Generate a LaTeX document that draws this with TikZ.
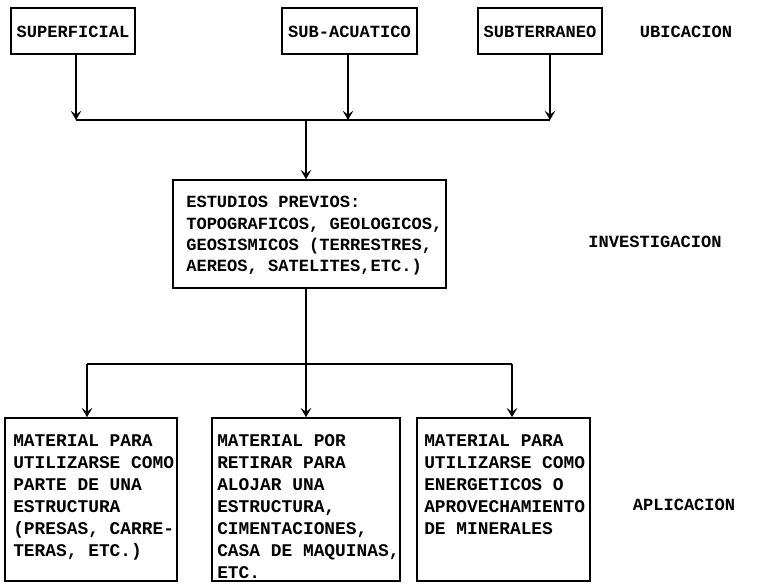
\documentclass[tikz,border=0pt]{standalone}
\usepackage{fontspec}
\setmonofont{Liberation Mono}
\usetikzlibrary{arrows.meta,fit}
\begin{document}
\begin{tikzpicture}[x=0.75pt,y=-0.75pt,
  box/.style={draw,line width=1.2pt,inner sep=0pt},
  txt/.style={font=\ttfamily\bfseries\fontsize{12.8}{16}\selectfont,align=left,inner sep=0pt},
  btxt/.style={txt,font=\ttfamily\bfseries\fontsize{13.4}{16.5}\selectfont,anchor=north west},
  link/.style={line width=1.5pt},
  arr/.style={link,-{Stealth[length=7pt,width=8pt,inset=3pt]}}]
\useasboundingbox[fill=white] (0,0) rectangle (777,584);

% location level
\node[box,fit={(11,8)(135,54)}] (sup) {};
\node[box,fit={(282,8)(417,54)}] (sub) {};
\node[box,fit={(478,8)(602,54)}] (ter) {};
\node[txt] (suptxt) at ([yshift=-1pt]sup.center) {SUPERFICIAL};
\node[txt] (subtxt) at ([yshift=-1pt]sub.center) {SUB-ACUATICO};
\node[txt] (tertxt) at ([yshift=-1pt]ter.center) {SUBTERRANEO};
\node[txt] (ubi) at (686,32) {UBICACION};

% collecting bus
\coordinate (t1) at (76,120);
\coordinate (t2) at (348,120);
\coordinate (t3) at (550,120);
\coordinate (tm) at (306,120);
\draw[arr] (sup.south -| t1) -- (t1);
\draw[arr] (sub.south -| t2) -- (t2);
\draw[arr] (ter.south -| t3) -- (t3);
\draw[link] (t1) -- (t3);

% investigation level
\node[box,fit={(173,180)(446,288)}] (mid) {};
\node[txt,anchor=west] (midtxt) at (186,236)
  {ESTUDIOS PREVIOS:\\TOPOGRAFICOS, GEOLOGICOS,\\GEOSISMICOS (TERRESTRES,\\AEREOS, SATELITES,ETC.)};
\node[txt] (inv) at (655,242) {INVESTIGACION};
\draw[arr] (tm) -- (mid.north -| tm);

% distribution bus
\coordinate (b1) at (87,364);
\coordinate (b2) at (306,364);
\coordinate (b3) at (512,364);
\draw[link] (mid.south -| b2) -- (b2);
\draw[link] (b1) -- (b3);

% application level
\node[box,fit={(5,418)(177,581)}] (ap1) {};
\node[box,fit={(212,418)(400,581)}] (ap2) {};
\node[box,fit={(417,418)(590,581)}] (ap3) {};
\node[btxt] (ap1txt) at (13,434)
  {MATERIAL PARA\\UTILIZARSE COMO\\PARTE DE UNA\\ESTRUCTURA\\(PRESAS, CARRE-\\TERAS, ETC.)};
\node[btxt] (ap2txt) at (217,434)
  {MATERIAL POR\\RETIRAR PARA\\ALOJAR UNA\\ESTRUCTURA,\\CIMENTACIONES,\\CASA DE MAQUINAS,\\ETC.};
\node[btxt] (ap3txt) at (424,434)
  {MATERIAL PARA\\UTILIZARSE COMO\\ENERGETICOS O\\APROVECHAMIENTO\\DE MINERALES};
\node[txt] (apl) at (684,505) {APLICACION};
\draw[arr] (b1) -- (ap1.north -| b1);
\draw[arr] (b2) -- (ap2.north -| b2);
\draw[arr] (b3) -- (ap3.north -| b3);
\end{tikzpicture}
\end{document}
